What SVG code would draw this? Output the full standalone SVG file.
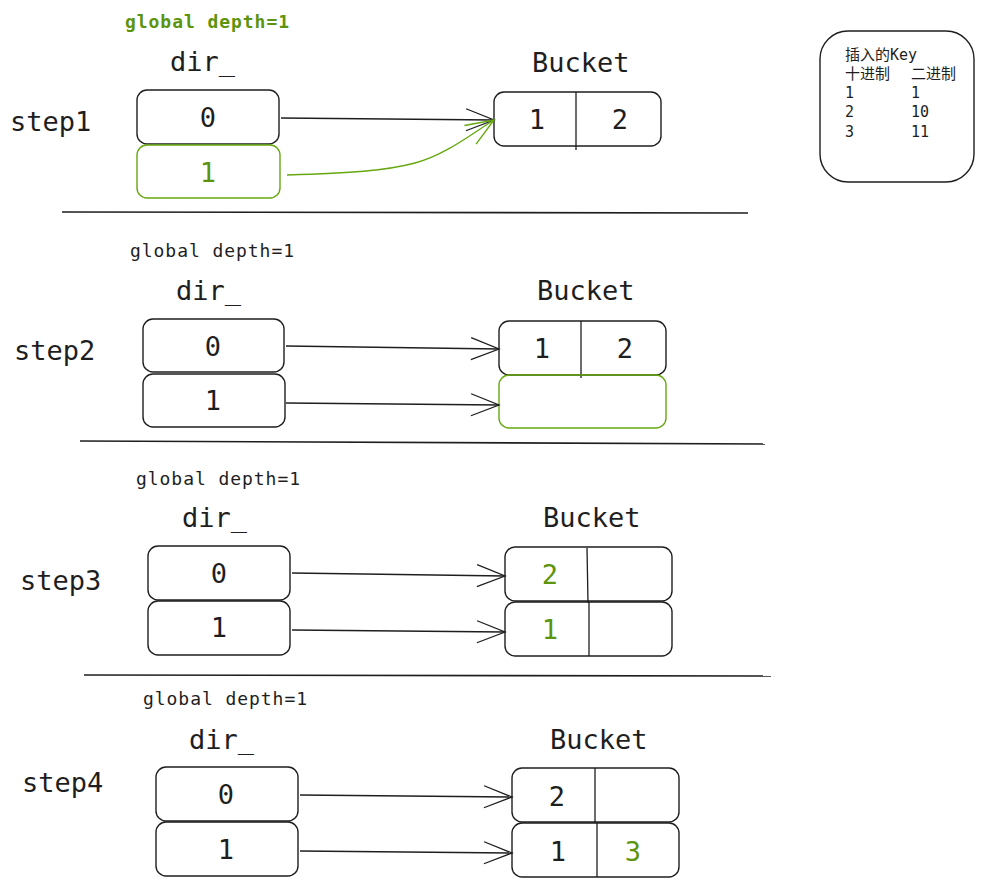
<svg xmlns="http://www.w3.org/2000/svg" width="984" height="887" viewBox="0 0 984 887">
<defs>
<style>
.bg{fill:#ffffff}
.box{fill:none;stroke:#1e1e1e;stroke-width:1.4}
.gbox{fill:none;stroke:#66a80f;stroke-width:1.4}
.div{stroke:#1e1e1e;stroke-width:1.3}
.sep{stroke:#1e1e1e;stroke-width:1.6}
.edge{fill:none;stroke:#1e1e1e;stroke-width:1.3}
.gedge{fill:none;stroke:#66a80f;stroke-width:1.4}
.t{font-family:"DejaVu Sans Mono","Liberation Mono",monospace;fill:#1e1e1e}
.big{font-size:27px}
.num{font-size:27px;text-anchor:middle}
.gd{font-size:18px}
.g{fill:#5c940d}
.leg{font-family:"DejaVu Sans Mono","Noto Sans CJK SC",monospace;font-size:15px;fill:#1e1e1e}
</style>
<marker id="ah" markerWidth="32" markerHeight="28" refX="30" refY="14" orient="auto" markerUnits="userSpaceOnUse">
<path d="M2,3 L30,14 L2,25" fill="none" stroke="#1e1e1e" stroke-width="1.3"/>
</marker>
<marker id="gah" markerWidth="32" markerHeight="28" refX="30" refY="14" orient="auto" markerUnits="userSpaceOnUse">
<path d="M2,3 L30,14 L2,25" fill="none" stroke="#66a80f" stroke-width="1.4"/>
</marker>
</defs>
<rect class="bg" x="0" y="0" width="984" height="887"/>

<g id="legend">
<rect class="box" x="820" y="31" width="154" height="151" rx="28"/>
<text class="leg" x="845" y="60">插入的Key</text>
<text class="leg" x="845" y="79">十进制</text>
<text class="leg" x="911" y="79">二进制</text>
<text class="leg" x="845" y="98">1</text><text class="leg" x="911" y="98">1</text>
<text class="leg" x="845" y="117">2</text><text class="leg" x="911" y="117">10</text>
<text class="leg" x="845" y="137">3</text><text class="leg" x="911" y="137">11</text>
</g>

<g id="labels">
<text class="t gd g" x="125" y="28" font-weight="bold" textLength="164" lengthAdjust="spacing">global depth=1</text>
<text class="t big" x="170" y="71">dir_</text>
<text class="t big" x="10" y="131">step1</text>
<text class="t big" x="532" y="72">Bucket</text>

<text class="t gd" x="130" y="257" textLength="164" lengthAdjust="spacing">global depth=1</text>
<text class="t big" x="176" y="300">dir_</text>
<text class="t big" x="14" y="360">step2</text>
<text class="t big" x="537" y="300">Bucket</text>

<text class="t gd" x="136" y="485" textLength="164" lengthAdjust="spacing">global depth=1</text>
<text class="t big" x="182" y="527">dir_</text>
<text class="t big" x="20" y="590">step3</text>
<text class="t big" x="543" y="527">Bucket</text>

<text class="t gd" x="143" y="705" textLength="164" lengthAdjust="spacing">global depth=1</text>
<text class="t big" x="189" y="749">dir_</text>
<text class="t big" x="22" y="792">step4</text>
<text class="t big" x="550" y="749">Bucket</text>
</g>

<g id="separators">
<line class="sep" x1="62" y1="212" x2="748" y2="213"/>
<line class="sep" x1="80" y1="441" x2="765" y2="444"/>
<line class="sep" x1="84" y1="675" x2="771" y2="676"/>
</g>

<!-- step1 -->
<g id="s1-dir0"><rect class="box" x="137" y="90" width="142" height="54" rx="10"/><text class="t num" x="208" y="127">0</text></g>
<g id="s1-dir1"><rect class="gbox" x="137" y="145" width="143" height="53" rx="10"/><text class="t num g" x="208" y="182">1</text></g>
<g id="s1-bucket"><rect class="box" x="494" y="92" width="167" height="54" rx="10"/><line class="div" x1="576" y1="92" x2="576" y2="150"/><text class="t num" x="537" y="129">1</text><text class="t num" x="620" y="129">2</text></g>

<!-- step2 -->
<g id="s2-dir0"><rect class="box" x="143" y="319" width="141" height="53" rx="10"/><text class="t num" x="213" y="356">0</text></g>
<g id="s2-dir1"><rect class="box" x="143" y="374" width="142" height="53" rx="10"/><text class="t num" x="213" y="410">1</text></g>
<g id="s2-bucket0"><rect class="box" x="499" y="321" width="167" height="54" rx="10"/><line class="div" x1="581" y1="321" x2="581" y2="378"/><text class="t num" x="542" y="358">1</text><text class="t num" x="625" y="358">2</text></g>
<g id="s2-bucket1"><rect class="gbox" x="499" y="375" width="167" height="53" rx="10"/></g>

<!-- step3 -->
<g id="s3-dir0"><rect class="box" x="148" y="546" width="142" height="54" rx="10"/><text class="t num" x="219" y="583">0</text></g>
<g id="s3-dir1"><rect class="box" x="148" y="601" width="142" height="54" rx="10"/><text class="t num" x="219" y="637">1</text></g>
<g id="s3-bucket0"><rect class="box" x="505" y="547" width="167" height="54" rx="10"/><line class="div" x1="587" y1="548" x2="588" y2="603"/><text class="t num g" x="550" y="584">2</text></g>
<g id="s3-bucket1"><rect class="box" x="505" y="602" width="167" height="54" rx="10"/><line class="div" x1="589" y1="602" x2="589" y2="656"/><text class="t num g" x="550" y="639">1</text></g>

<!-- step4 -->
<g id="s4-dir0"><rect class="box" x="156" y="767" width="142" height="54" rx="10"/><text class="t num" x="226" y="804">0</text></g>
<g id="s4-dir1"><rect class="box" x="156" y="822" width="142" height="54" rx="10"/><text class="t num" x="226" y="859">1</text></g>
<g id="s4-bucket0"><rect class="box" x="512" y="768" width="167" height="54" rx="10"/><line class="div" x1="595" y1="768" x2="595" y2="823"/><text class="t num" x="557" y="806">2</text></g>
<g id="s4-bucket1"><rect class="box" x="512" y="823" width="167" height="54" rx="10"/><line class="div" x1="597" y1="823" x2="597" y2="877"/><text class="t num" x="558" y="861">1</text><text class="t num g" x="633" y="861">3</text></g>

<g id="connectors">
<line class="edge" x1="281" y1="118" x2="494" y2="120" marker-end="url(#ah)"/>
<path class="gedge" d="M287,175 C350,173 385,171 415,163 C445,155 470,135 494,120" marker-end="url(#gah)"/>
<line class="edge" x1="286" y1="346" x2="499" y2="349" marker-end="url(#ah)"/>
<line class="edge" x1="286" y1="403" x2="499" y2="405" marker-end="url(#ah)"/>
<line class="edge" x1="292" y1="573" x2="505" y2="576" marker-end="url(#ah)"/>
<line class="edge" x1="292" y1="630" x2="505" y2="632" marker-end="url(#ah)"/>
<line class="edge" x1="300" y1="795" x2="512" y2="797" marker-end="url(#ah)"/>
<line class="edge" x1="300" y1="851" x2="512" y2="853" marker-end="url(#ah)"/>
</g>
</svg>
